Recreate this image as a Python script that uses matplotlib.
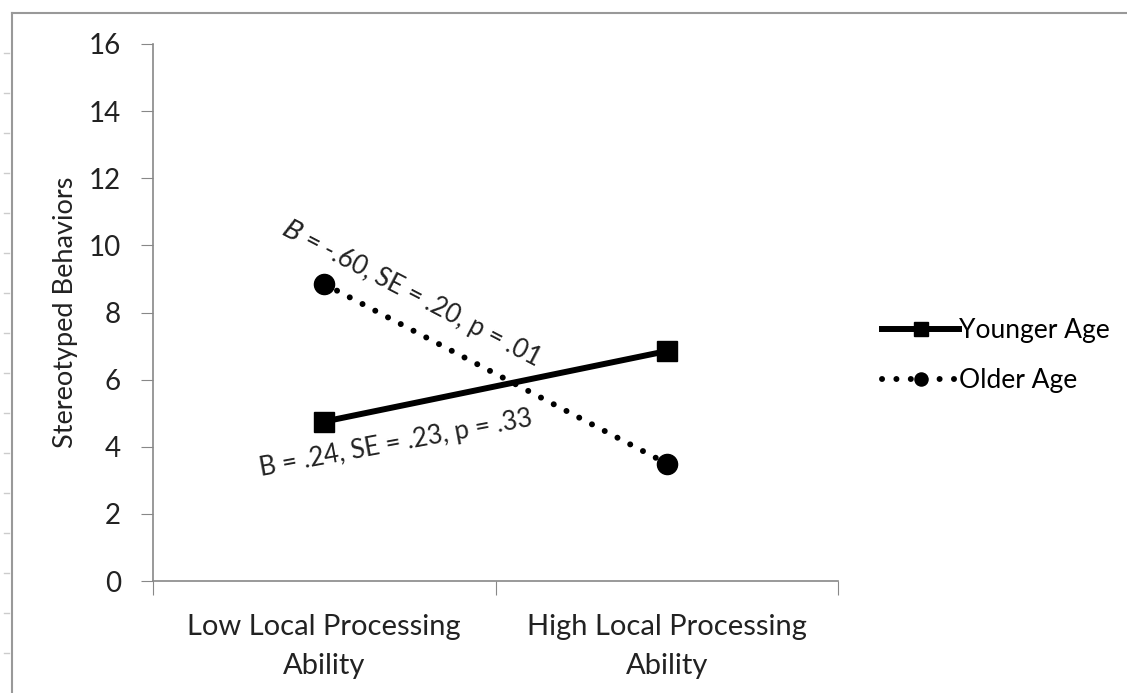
import numpy as np
import matplotlib.pyplot as plt
from matplotlib.lines import Line2D

plt.rcParams['font.family'] = ['Lato', 'DejaVu Sans']

categories = ['Low Local Processing\nAbility', 'High Local Processing\nAbility']
younger = [4.75, 6.85]
older = [8.85, 3.5]
yticks = [0, 2, 4, 6, 8, 10, 12, 14, 16]

W, H = 1127, 693
fig = plt.figure(figsize=(W / 100, H / 100), dpi=100)
ax = fig.add_axes([153 / W, 1 - 581 / H, (838 - 153) / W, (581 - 44) / H])

x = np.array([0.5, 1.5])
ax.plot(x, younger, color='black', lw=4.3, marker='s', ms=15, label='Younger Age')
ax.plot(x, older, color='black', lw=4.3, ls=(0, (0.01, 2.4)), dash_capstyle='round',
        marker='o', ms=14.5, label='Older Age')

ax.set_xlim(0, 2)
ax.set_ylim(0, 16)
ax.set_yticks(yticks)
ax.set_xticks([0, 1, 2])
ax.set_xticklabels([])
ax.set_xticks(x, minor=True)
ax.set_xticklabels(categories, minor=True, fontsize=21, color='#222222', linespacing=1.6)
ax.tick_params(axis='x', which='minor', length=0, pad=24)
ax.tick_params(axis='x', which='major', length=10, color='#888888', direction='out')
ax.tick_params(axis='y', length=9, color='#888888', direction='out', labelsize=20,
               labelcolor='#222222', pad=14)
for s in ['top', 'right']:
    ax.spines[s].set_visible(False)
for s in ['left', 'bottom']:
    ax.spines[s].set_color('#888888')
    ax.spines[s].set_linewidth(1.2)

ax.set_ylabel('Stereotyped Behaviors', fontsize=19.5, color='#222222', labelpad=8)

ax.text(0.755, 8.55, '$\\mathit{B}$ = -.60, SE = .20, p = .01', rotation=-27.5,
        fontsize=18.5, ha='center', va='center', color='#222222')
ax.text(0.71, 4.1, 'B = .24, SE = .23, p = .33', rotation=10.5,
        fontsize=18.5, ha='center', va='center', color='#222222')

ax.legend(loc='center left', bbox_to_anchor=(1.03, 0.42), frameon=False, fontsize=19,
          handlelength=2.9, labelspacing=0.95, handletextpad=0.0, markerscale=0.65)

# outer chart frame (partially cropped in the original)
fig.add_artist(Line2D([12 / W, 12 / W], [0, 1 - 13 / H], color='#999999', lw=1.5))
fig.add_artist(Line2D([12 / W, 1], [1 - 13 / H, 1 - 13 / H], color='#999999', lw=1.5))
for yy in range(53, 693, 40):
    fig.add_artist(Line2D([4 / W, 9 / W], [1 - yy / H, 1 - yy / H], color='#cccccc', lw=1))

fig.savefig('out.png', dpi=100)
